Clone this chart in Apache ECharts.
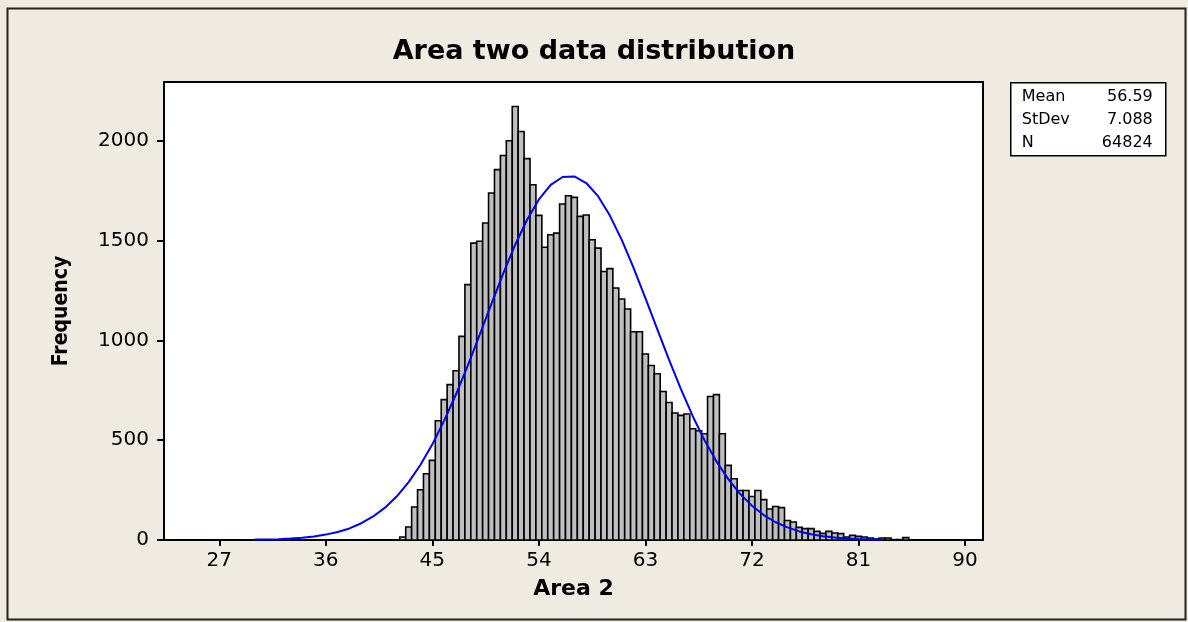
<!DOCTYPE html>
<html>
<head>
<meta charset="utf-8">
<title>Area two data distribution</title>
<script src="https://cdn.jsdelivr.net/npm/echarts@6/dist/echarts.min.js"></script>
<style>
  html, body { margin: 0; padding: 0; background: #efebe1; }
  #chart { width: 1188px; height: 622px; }
</style>
</head>
<body>
<div id="chart"></div>
<script>
// Histogram bins: first bin centre and bin width, then counts per bin
const binStart = 42.5;
const binWidth = 0.5;
const binCounts = [
  15, 65, 165, 252, 332, 399, 597, 703, 778, 848,
  1020, 1279, 1487, 1496, 1588, 1738, 1855, 1926, 2000, 2171,
  2046, 1910, 1779, 1626, 1466, 1529, 1537, 1683, 1724, 1716,
  1621, 1628, 1504, 1462, 1345, 1359, 1262, 1207, 1157, 1043,
  1043, 932, 874, 833, 744, 689, 636, 624, 631, 557,
  547, 532, 719, 728, 532, 374, 307, 248, 248, 218,
  248, 202, 155, 168, 162, 98, 90, 63, 57, 57,
  43, 33, 43, 35, 32, 15, 23, 18, 15, 10,
  5, 10, 10, 2, 2, 12
];

// Fitted normal curve (x, expected frequency)
const fitX = [30, 31, 32, 33, 34, 35, 36, 37, 38, 39, 40, 41, 42, 43, 44, 45, 46, 47, 48, 49,
  50, 51, 52, 53, 54, 55, 56, 57, 58, 59, 60, 61, 62, 63, 64, 65, 66, 67, 68, 69,
  70, 71, 72, 73, 74, 75, 76, 77, 78, 79, 80, 81, 82, 83];
const fitY = [2, 3, 4, 7, 11, 18, 27, 40, 58, 84, 118, 162, 219, 290, 377, 479, 598, 730, 875, 1028,
  1184, 1337, 1479, 1604, 1706, 1779, 1818, 1821, 1788, 1722, 1625, 1503, 1363, 1212, 1056, 902, 756, 620, 499, 394,
  305, 231, 172, 125, 89, 63, 43, 29, 19, 12, 8, 5, 3, 2];

// Axis tick labels
const xTicks = [27, 36, 45, 54, 63, 72, 81, 90];
const yTicks = [0, 500, 1000, 1500, 2000];

// Summary statistics
const statNames = ['Mean', 'StDev', 'N'];
const statValues = ['56.59', '7.088', '64824'];

const FONT = "'DejaVu Sans', Verdana, sans-serif";

const histData = binCounts.map((c, i) => [binStart + i * binWidth, c]);
const fitData = fitX.map((x, i) => [x, fitY[i]]);

const chart = echarts.init(document.getElementById('chart'), null, { renderer: 'canvas' });

const statsGroup = {
  type: 'group',
  left: 1010,
  top: 82,
  children: [
    { type: 'rect', shape: { x: 0, y: 0, width: 155, height: 73 },
      style: { fill: '#ffffff', stroke: '#000', lineWidth: 1.5 } }
  ].concat(statNames.map((n, i) => ({
    type: 'text', x: 11, y: 14 + i * 23,
    style: { text: n, font: '16px ' + FONT, fill: '#000', textVerticalAlign: 'middle' }
  }))).concat(statValues.map((v, i) => ({
    type: 'text', x: 142, y: 14 + i * 23,
    style: { text: v, font: '16px ' + FONT, fill: '#000', textAlign: 'right', textVerticalAlign: 'middle' }
  })))
};

chart.setOption({
  backgroundColor: '#efebe1',
  animation: false,
  title: {
    text: 'Area two data distribution',
    left: 'center',
    top: 38,
    padding: 0,
    textStyle: { fontFamily: FONT, fontSize: 27, fontWeight: 'bold', color: '#000' }
  },
  grid: {
    left: 164, right: 205, top: 82, bottom: 82,
    show: true, backgroundColor: '#ffffff', borderColor: '#000', borderWidth: 2
  },
  xAxis: {
    type: 'value',
    min: 22.33, max: 91.52,
    name: 'Area 2',
    nameLocation: 'middle',
    nameGap: 38,
    nameTextStyle: { fontFamily: FONT, fontSize: 22, fontWeight: 'bold', color: '#000' },
    splitLine: { show: false },
    axisLine: { show: true, lineStyle: { color: '#000', width: 2 } },
    axisTick: { show: true, inside: false, length: 6, customValues: xTicks, lineStyle: { color: '#000', width: 2 } },
    axisLabel: { customValues: xTicks, margin: 11, fontFamily: FONT, fontSize: 20, color: '#000',
      formatter: v => String(v) }
  },
  yAxis: {
    type: 'value',
    min: 0, max: 2294,
    name: 'Frequency',
    nameLocation: 'middle',
    nameGap: 92,
    nameTextStyle: { fontFamily: "'DejaVu Sans Condensed', " + FONT, fontSize: 21, fontWeight: 'bold', color: '#000' },
    splitLine: { show: false },
    axisLine: { show: true, lineStyle: { color: '#000', width: 2 } },
    axisTick: { show: true, inside: false, length: 7, customValues: yTicks, lineStyle: { color: '#000', width: 2 } },
    axisLabel: { customValues: yTicks, margin: 15, fontFamily: FONT, fontSize: 20, color: '#000',
      formatter: v => String(v) }
  },
  graphic: [
    { type: 'rect', left: 5, top: 6, shape: { x: 0, y: 0, width: 1178, height: 611 },
      style: { fill: 'none', stroke: '#222', lineWidth: 2 }, silent: true },
    statsGroup
  ],
  series: [
    {
      type: 'custom',
      name: 'Frequency',
      data: histData,
      renderItem: function (params, api) {
        const c = api.value(0);
        const v = api.value(1);
        const p0 = api.coord([c - binWidth / 2, v]);
        const p1 = api.coord([c + binWidth / 2, 0]);
        return {
          type: 'rect',
          shape: { x: p0[0], y: p0[1], width: p1[0] - p0[0], height: p1[1] - p0[1] },
          style: { fill: '#bfbfbf', stroke: '#000', lineWidth: 1.6 }
        };
      },
      z: 2
    },
    {
      type: 'line',
      name: 'Normal fit',
      data: fitData,
      smooth: false,
      showSymbol: false,
      symbol: 'none',
      lineStyle: { color: '#0000ff', width: 2 },
      z: 3
    }
  ]
});
</script>
</body>
</html>
